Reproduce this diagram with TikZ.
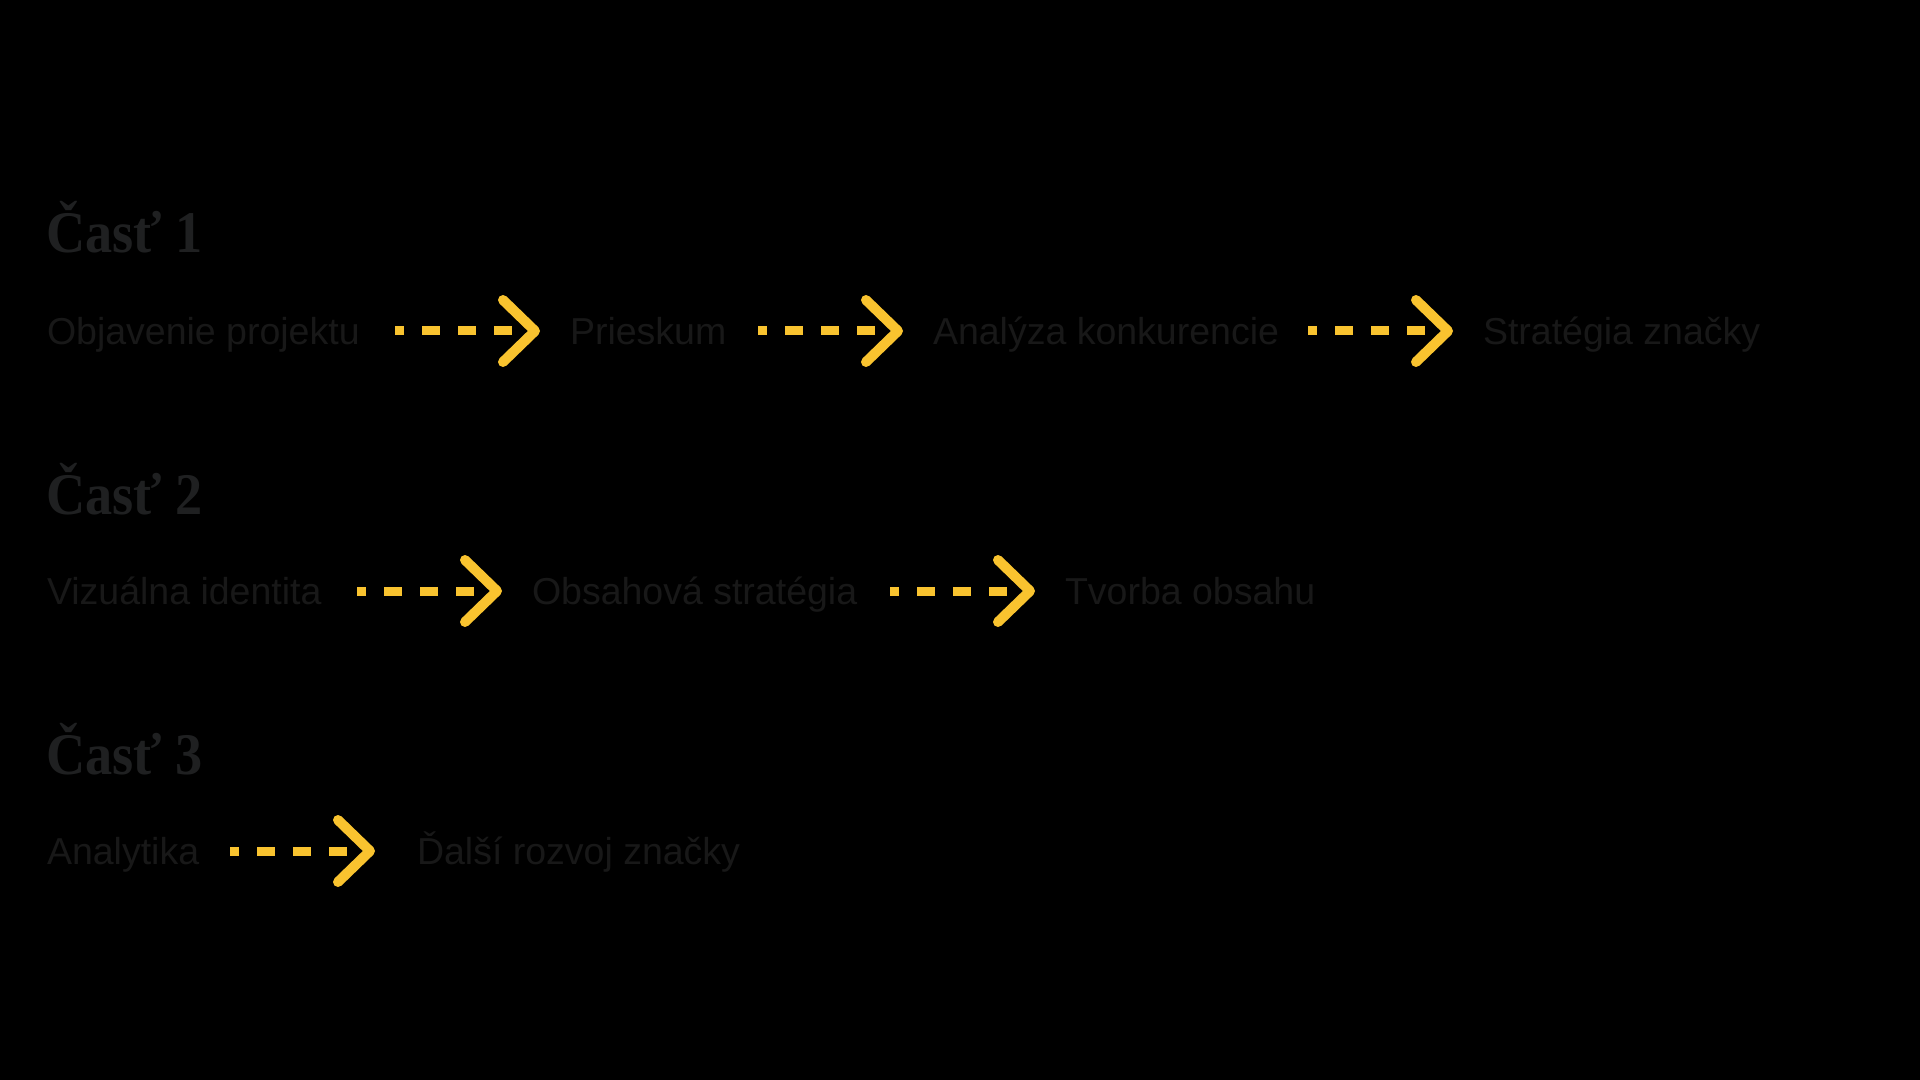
\documentclass[tikz,border=0pt]{standalone}
\usepackage{fontspec}
\usepackage{graphicx}
\newfontfamily\bodyfont{Liberation Sans}
\newfontfamily\headfont{Liberation Serif}
\usetikzlibrary{calc}
\definecolor{ylw}{HTML}{F9C32F}
\definecolor{txt}{HTML}{181818}
\definecolor{headc}{HTML}{1F2021}
\tikzset{
  bodytext/.style={anchor=west, inner sep=0pt, outer sep=0pt, text height=13.5pt, text depth=0pt,
    font=\bodyfont\fontsize{18.75}{22}\selectfont, text=txt},
  headtext/.style={anchor=base west, inner sep=0pt, outer sep=0pt,
    font=\headfont\bfseries\fontsize{29.5}{32}\selectfont, text=headc},
  dashl/.style={draw=ylw, line width=4.5pt, line cap=butt, dash pattern=on 9pt off 9pt, dash phase=4.5pt},
  chev/.style={draw=ylw, line width=5pt, line cap=round, line join=round}
}
\newcommand\flowarrow[3][0]{%
  \draw[dashl] ($(#3.west)+(-175+#1,0)$) -- ($(#3.west)+(-55+#1,0)$);
  \draw[chev] ($(#3.west)+(-67+#1,-31)$) -- ($(#3.west)+(-35+#1,0)$) -- ($(#3.west)+(-67+#1,31)$);
}
\begin{document}
\begin{tikzpicture}[x=0.5pt,y=-0.5pt]
\fill[black] (0,0) rectangle (1920,1080);
\useasboundingbox (0,0) rectangle (1920,1080);

% headings
\node[headtext] (h1) at (46,253) {\scalebox{0.92}[1]{Časť 1}};
\node[headtext] (h2) at (46,514) {\scalebox{0.92}[1]{Časť 2}};
\node[headtext] (h3) at (46,774) {\scalebox{0.92}[1]{Časť 3}};

% row 1
\node[bodytext] (a1) at (47,331) {Objavenie projektu};
\node[bodytext] (a2) at (570,331) {Prieskum};
\node[bodytext] (a3) at (933,331) {Analýza konkurencie};
\node[bodytext] (a4) at (1483,331) {Stratégia značky};
\flowarrow{a1}{a2}
\flowarrow{a2}{a3}
\flowarrow{a3}{a4}

% row 2
\node[bodytext] (b1) at (47,591) {Vizuálna identita};
\node[bodytext] (b2) at (532,591) {Obsahová stratégia};
\node[bodytext] (b3) at (1065,591) {Tvorba obsahu};
\flowarrow{b1}{b2}
\flowarrow{b2}{b3}

% row 3
\node[bodytext] (c1) at (47,851) {Analytika};
\node[bodytext] (c2) at (417,851) {Ďalší rozvoj značky};
\flowarrow[-12]{c1}{c2}
\end{tikzpicture}
\end{document}
